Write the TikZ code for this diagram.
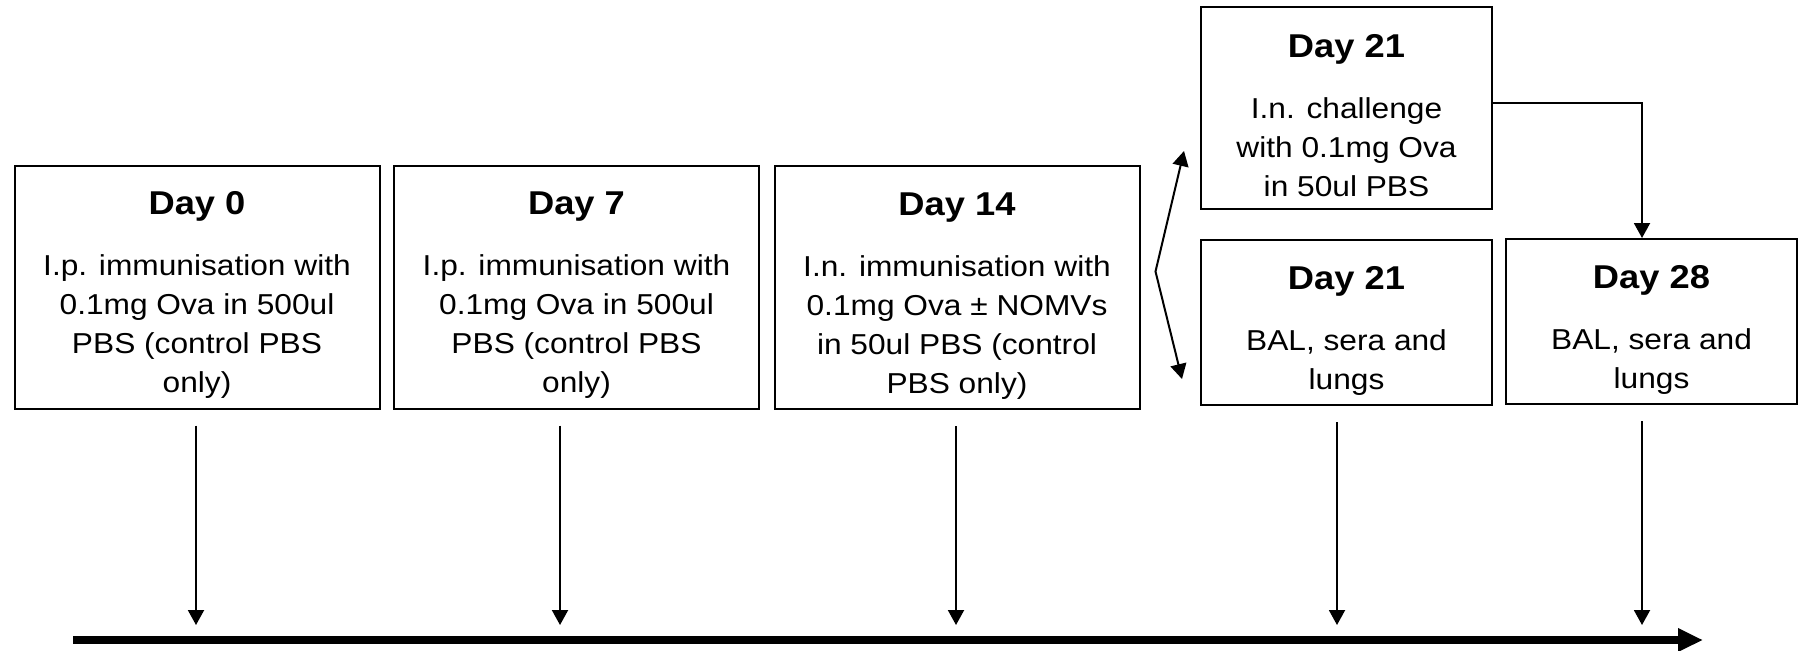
\documentclass[tikz,border=0pt]{standalone}
\usepackage{fontspec}
\setmainfont{Liberation Sans}[FakeStretch=1.1]
\usetikzlibrary{arrows.meta}

\newcommand{\daytitle}[1]{{\fontsize{16.5}{19.5}\selectfont\bfseries\rule{0pt}{19.5pt}#1}\\[11pt]}

\begin{document}
\begin{tikzpicture}[x=.5pt,y=-.5pt,>={Triangle[length=7.5pt,width=8pt]},
    daybox/.style={draw,line width=1pt,align=center,inner sep=0pt,
      font=\fontsize{14.4}{19.5}\selectfont},
    longbox/.style={daybox,minimum width=182.5pt,minimum height=121.5pt},
    shortbox/.style={daybox,minimum width=145.5pt,minimum height=82.5pt},
    tick/.style={->,line width=1pt}]
  \useasboundingbox (0,0) rectangle (1798,650);
  \node[longbox] (d0) at (197,287) {\daytitle{Day 0}I.p. immunisation with\\0.1mg Ova in 500ul\\PBS (control PBS\\only)};
  \node[longbox] (d7) at (576.5,287) {\daytitle{Day 7}I.p. immunisation with\\0.1mg Ova in 500ul\\PBS (control PBS\\only)};
  \node[longbox] (d14) at (957,287.5) {\daytitle{Day 14}I.n. immunisation with\\0.1mg Ova ± NOMVs\\in 50ul PBS (control\\PBS only)};
  \node[daybox,minimum width=145.5pt,minimum height=101pt] (d21a) at (1346.5,108) {\daytitle{Day 21}I.n. challenge\\with 0.1mg Ova\\in 50ul PBS};
  \node[shortbox] (d21b) at (1346.5,322.5) {\daytitle{Day 21}BAL, sera and\\lungs};
  \node[shortbox] (d28) at (1651.5,321.5) {\daytitle{Day 28}BAL, sera and\\lungs};

  % time axis
  \coordinate (t-start) at (73,640);
  \coordinate (t-end) at (1703,640);
  \draw[line width=4pt,-{Triangle[length=12.5pt,width=11pt]}] (t-start) -- (t-end);
  \foreach \d/\x in {d0/196,d7/560,d14/956,d21b/1337,d28/1642} {
    \coordinate (t-\d) at (\x,625);
    \draw[tick,shorten <=8pt] (\d.south -| t-\d) -- (t-\d);
  }

  % day 14 splits, challenge leads on to day 28
  \coordinate (fork) at ([xshift=7.5pt,yshift=8pt]d14.east);
  \draw[tick,<->] ([xshift=-8pt,yshift=29.5pt]d21a.south west) -- (fork)
    -- ([xshift=-9pt,yshift=13.5pt]d21b.south west);
  \draw[tick] ([yshift=2.5pt]d21a.east) -| (t-d28 |- d28.north);
\end{tikzpicture}
\end{document}
